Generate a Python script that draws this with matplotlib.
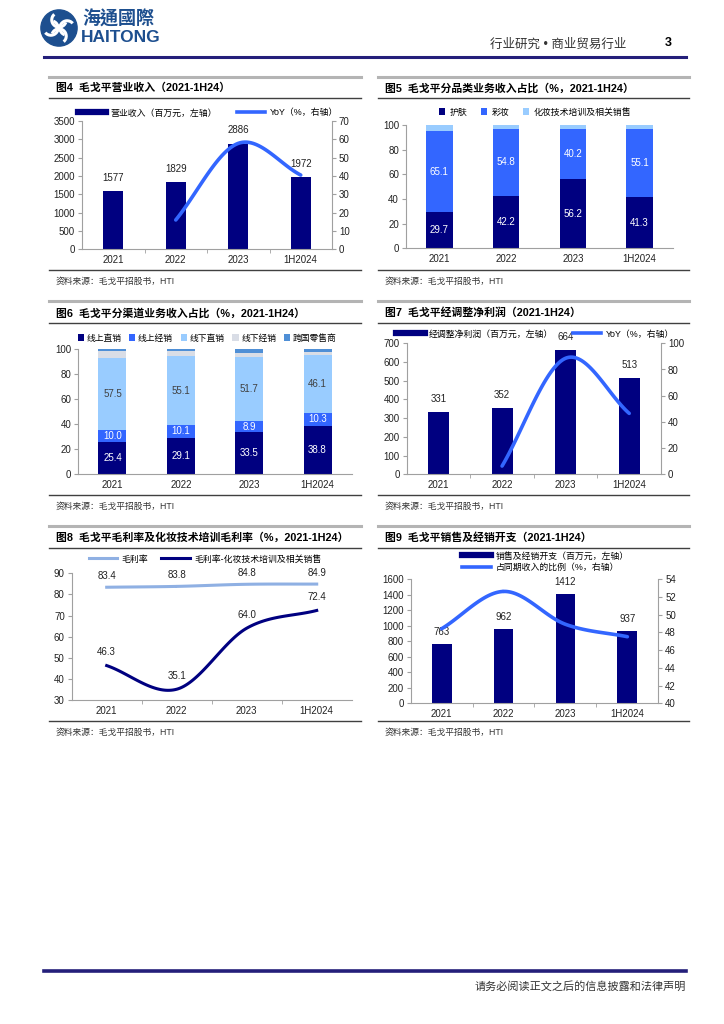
import numpy as np
import matplotlib
matplotlib.use('Agg')
import matplotlib.pyplot as plt
from matplotlib.lines import Line2D
from matplotlib.patches import Circle, Arc

plt.rcParams['font.family'] = ['Liberation Sans', 'Noto Sans CJK SC', 'DejaVu Sans']

W, H = 724, 1024
NAVY = '#000080'
BLUE = '#3366ff'
LBLUE = '#99ccff'
GREY = '#d9dde6'
MBLUE = '#4f8fd6'
TXT = '#222222'
AX = '#a0a0a0'

years = ['2021', '2022', '2023', '1H2024']

# fig 4
revenue = [1577, 1829, 2886, 1972]
revenue_yoy = [16.0, 57.8, 40.5]            # 2022 onwards
# fig 5
skincare = [29.7, 42.2, 56.2, 41.3]
makeup = [65.1, 54.8, 40.2, 55.1]
training = [5.2, 3.0, 3.6, 3.6]
# fig 6
online_direct = [25.4, 29.1, 33.5, 38.8]
online_dist = [10.0, 10.1, 8.9, 10.3]
offline_direct = [57.5, 55.1, 51.7, 46.1]
offline_dist = [5.8, 4.2, 2.6, 2.3]
retailers = [1.3, 1.5, 3.3, 2.5]
# fig 7
adj_profit = [331, 352, 664, 513]
adj_profit_yoy = [6.3, 88.6, 46.5]          # 2022 onwards
# fig 8
gross_margin = [83.4, 83.8, 84.8, 84.9]
training_margin = [46.3, 35.1, 64.0, 72.4]
# fig 9
selling_exp = [763, 962, 1412, 937]
selling_ratio = [48.4, 52.6, 48.9, 47.5]

fig = plt.figure(figsize=(W / 100, H / 100), dpi=100)


def px(x0, y0, x1, y1):
    return [x0 / W, 1 - y1 / H, (x1 - x0) / W, (y1 - y0) / H]


def hline(x0, x1, y, color, lw):
    fig.add_artist(Line2D([x0 / W, x1 / W], [1 - y / H, 1 - y / H],
                          transform=fig.transFigure, color=color, lw=lw))


def ftext(x, y, s, **kw):
    fig.text(x / W, 1 - y / H, s, **kw)


def smooth(xs, ys, n=40):
    # catmull-rom curve through the points, like the excel smoothed line
    p = np.column_stack([xs, ys]).astype(float)
    p = np.vstack([2 * p[0] - p[1], p, 2 * p[-1] - p[-2]])
    t = np.linspace(0, 1, n)[:, None]
    out = []
    for i in range(1, len(p) - 2):
        p0, p1, p2, p3 = p[i - 1], p[i], p[i + 1], p[i + 2]
        out.append(0.5 * (2 * p1 + (-p0 + p2) * t + (2 * p0 - 5 * p1 + 4 * p2 - p3) * t ** 2
                          + (-p0 + 3 * p1 - 3 * p2 + p3) * t ** 3))
    out = np.vstack(out)
    return out[:, 0], out[:, 1]


def frame(x0, x1, row, title):
    top, tt, under, bottom, src = row
    hline(x0, x1, top, '#b4b4b4', 2.2)
    ftext(x0 + 7, tt, title, fontsize=7.8, fontweight='bold', va='center', color='black')
    hline(x0, x1, under, '#404040', 1.0)
    hline(x0, x1, bottom, '#404040', 1.0)
    ftext(x0 + 7, src, '资料来源：毛戈平招股书，HTI', fontsize=6.3, va='center', color='#333333')


def style(ax, right=None):
    ax.spines['top'].set_visible(False)
    ax.spines['right'].set_visible(False)
    for s in ['left', 'bottom']:
        ax.spines[s].set_color(AX)
        ax.spines[s].set_linewidth(0.8)
    ax.set_xlim(-0.5, 3.5)
    ax.set_xticks(range(4))
    ax.set_xticklabels(years)
    ax.set_xticks([0.5, 1.5, 2.5], minor=True)
    ax.tick_params(axis='x', which='major', length=0, labelsize=7, colors=TXT, pad=4)
    ax.tick_params(axis='x', which='minor', length=3, color=AX)
    ax.tick_params(axis='y', length=3, color=AX, labelsize=7, colors=TXT, pad=2)
    ax.set_facecolor('none')
    if right is not None:
        right.spines['top'].set_visible(False)
        right.spines['left'].set_visible(False)
        right.spines['bottom'].set_visible(False)
        right.spines['right'].set_color(AX)
        right.spines['right'].set_linewidth(0.8)
        right.tick_params(axis='y', length=3, color=AX, labelsize=7, colors=TXT, pad=2)


x = np.arange(4)
LX0, LX1, RX0, RX1 = 49, 361, 378, 689
ROW1 = (77, 88, 98, 270, 281)
ROW2 = (301, 313, 323, 495, 506)
ROW3 = (526, 538, 548, 721, 732)
LEG = dict(frameon=False, fontsize=6.4, handletextpad=0.5)

# ---------- header ----------
lax = fig.add_axes(px(40, 9, 78, 47))
lax.set_xlim(-1.05, 1.05)
lax.set_ylim(-1.05, 1.05)
lax.set_aspect('equal')
lax.axis('off')
lax.add_patch(Circle((0, 0), 1, color='#1d4f8f'))
for ang in [0, 90, 180, 270]:
    lax.add_patch(Arc((0.45 * np.cos(np.radians(ang)), 0.45 * np.sin(np.radians(ang))), 0.8, 0.8,
                      theta1=ang + 40, theta2=ang + 250, color='white', lw=2.2))
lax.add_patch(Circle((0, 0), 0.15, color='white'))
ftext(82, 19, '海通國際', fontsize=13, fontweight='bold', color='#1d4f8f', va='center',
      family=['Noto Sans CJK TC', 'DejaVu Sans'])
ftext(81, 38, 'HAITONG', fontsize=12.5, fontweight='bold', color='#1d4f8f', va='center')
ftext(626, 45, '行业研究 • 商业贸易行业', fontsize=9, color='#333333', va='center', ha='right')
ftext(668, 43, '3', fontsize=9, fontweight='bold', color='black', va='center', ha='center')
hline(44, 686, 57, '#241f7a', 2.2)

# ---------- fig 4 ----------
frame(LX0, LX1, ROW1, '图4  毛戈平营业收入（2021-1H24）')
ax = fig.add_axes(px(82, 121, 332, 249.3))
ax2 = ax.twinx()
ax.bar(x, revenue, width=0.32, color=NAVY, zorder=2)
for i, v in enumerate(revenue):
    ax.text(i, v + 230, str(v), ha='center', va='bottom', fontsize=7, color=TXT)
sx, sy = smooth(x[1:], revenue_yoy)
ax2.plot(sx, sy, color=BLUE, lw=2.6, solid_capstyle='round')
ax.set_ylim(0, 3500)
ax.set_yticks(range(0, 3501, 500))
ax2.set_ylim(0, 70)
ax2.set_yticks(range(0, 71, 10))
style(ax, ax2)
fig.legend([Line2D([], [], color=NAVY, lw=4.5), Line2D([], [], color=BLUE, lw=2.6)],
           ['营业收入（百万元，左轴）', 'YoY（%，右轴）'], loc='center',
           bbox_to_anchor=(208 / W, 1 - 113 / H), ncol=2, handlelength=3.2, columnspacing=2.2, **LEG)

# ---------- fig 5 ----------
frame(RX0, RX1, ROW1, '图5  毛戈平分品类业务收入占比（%，2021-1H24）')
ax = fig.add_axes(px(406, 125, 673, 248.3))
b1 = ax.bar(x, skincare, width=0.4, color=NAVY)
b2 = ax.bar(x, makeup, width=0.4, bottom=skincare, color=BLUE)
b3 = ax.bar(x, training, width=0.4, bottom=np.add(skincare, makeup), color=LBLUE)
for i in x:
    ax.text(i, skincare[i] / 2, f'{skincare[i]:.1f}', ha='center', va='center', fontsize=7, color='white')
    ax.text(i, skincare[i] + makeup[i] / 2, f'{makeup[i]:.1f}', ha='center', va='center', fontsize=7, color='white')
ax.set_ylim(0, 100)
ax.set_yticks(range(0, 101, 20))
style(ax)
ax.tick_params(axis='x', which='minor', length=0)
fig.legend([b1, b2, b3], ['护肤', '彩妆', '化妆技术培训及相关销售'], loc='center',
           bbox_to_anchor=(535 / W, 1 - 112 / H), ncol=3,
           handlelength=0.7, handleheight=0.7, columnspacing=1.5, **LEG)

# ---------- fig 6 ----------
frame(LX0, LX1, ROW2, '图6  毛戈平分渠道业务收入占比（%，2021-1H24）')
ax = fig.add_axes(px(78.3, 349.3, 351.7, 474))
series = [online_direct, online_dist, offline_direct, offline_dist, retailers]
cols = [NAVY, BLUE, LBLUE, GREY, MBLUE]
names = ['线上直销', '线上经销', '线下直销', '线下经销', '跨国零售商']
bottom = np.zeros(4)
handles = []
for k, (vals, c) in enumerate(zip(series, cols)):
    h = ax.bar(x, vals, width=0.41, bottom=bottom, color=c)
    handles.append(h)
    if k < 3:
        for i in x:
            ax.text(i, bottom[i] + vals[i] / 2, f'{vals[i]:.1f}', ha='center', va='center', fontsize=7,
                    color='white' if k < 2 else '#404040')
    bottom = bottom + np.array(vals)
ax.set_ylim(0, 100)
ax.set_yticks(range(0, 101, 20))
style(ax)
ax.tick_params(axis='x', which='minor', length=0)
fig.legend(handles, names, loc='center', bbox_to_anchor=(207 / W, 1 - 338 / H), ncol=5,
           handlelength=0.7, handleheight=0.7, columnspacing=0.9,
           frameon=False, fontsize=6.3, handletextpad=0.3)

# ---------- fig 7 ----------
frame(RX0, RX1, ROW2, '图7  毛戈平经调整净利润（2021-1H24）')
ax = fig.add_axes(px(406.7, 343.3, 661, 474.3))
ax2 = ax.twinx()
ax.bar(x, adj_profit, width=0.33, color=NAVY, zorder=2)
for i, v in enumerate(adj_profit):
    ax.text(i, v + 45, str(v), ha='center', va='bottom', fontsize=7, color=TXT)
sx, sy = smooth(x[1:], adj_profit_yoy)
ax2.plot(sx, sy, color=BLUE, lw=2.6, solid_capstyle='round')
ax.set_ylim(0, 700)
ax.set_yticks(range(0, 701, 100))
ax2.set_ylim(0, 100)
ax2.set_yticks(range(0, 101, 20))
style(ax, ax2)
fig.legend([Line2D([], [], color=NAVY, lw=4.5), Line2D([], [], color=BLUE, lw=2.6)],
           ['经调整净利润（百万元，左轴）', 'YoY（%，右轴）'], loc='center',
           bbox_to_anchor=(535 / W, 1 - 334 / H), ncol=2, handlelength=3.2, columnspacing=2.2, **LEG)

# ---------- fig 8 ----------
frame(LX0, LX1, ROW3, '图8  毛戈平毛利率及化妆技术培训毛利率（%，2021-1H24）')
ax = fig.add_axes(px(71.7, 573.3, 351.7, 700))
sx, sy = smooth(x, gross_margin)
ax.plot(sx, sy, color='#8fb0e3', lw=2.2)
sx, sy = smooth(x, training_margin)
ax.plot(sx, sy, color=NAVY, lw=2.2)
for i in x:
    ax.text(i, gross_margin[i] + 5.2, f'{gross_margin[i]:.1f}', ha='center', va='center', fontsize=7, color=TXT)
    ax.text(i, training_margin[i] + 6.2, f'{training_margin[i]:.1f}', ha='center', va='center', fontsize=7, color=TXT)
ax.set_ylim(30, 90)
ax.set_yticks(range(30, 91, 10))
style(ax)
fig.legend([Line2D([], [], color='#8fb0e3', lw=2.2), Line2D([], [], color=NAVY, lw=2.2)],
           ['毛利率', '毛利率-化妆技术培训及相关销售'], loc='center',
           bbox_to_anchor=(205 / W, 1 - 559 / H), ncol=2, handlelength=3.2, columnspacing=1.5, **LEG)

# ---------- fig 9 ----------
frame(RX0, RX1, ROW3, '图9  毛戈平销售及经销开支（2021-1H24）')
ax = fig.add_axes(px(410.7, 579, 658.3, 703.3))
ax2 = ax.twinx()
ax.bar(x, selling_exp, width=0.32, color=NAVY, zorder=2)
for i, v in enumerate(selling_exp):
    ax.text(i, v + 90, str(v), ha='center', va='bottom', fontsize=7, color=TXT)
sx, sy = smooth(x, selling_ratio)
ax2.plot(sx, sy, color=BLUE, lw=2.6, solid_capstyle='round')
ax.set_ylim(0, 1600)
ax.set_yticks(range(0, 1601, 200))
ax2.set_ylim(40, 54)
ax2.set_yticks(range(40, 55, 2))
style(ax, ax2)
fig.legend([Line2D([], [], color=NAVY, lw=4.5), Line2D([], [], color=BLUE, lw=2.6)],
           ['销售及经销开支（百万元，左轴）', '占同期收入的比例（%，右轴）'], loc='upper left',
           bbox_to_anchor=(458 / W, 1 - 547 / H), ncol=1, handlelength=3.2,
           labelspacing=0.3, borderpad=0, **LEG)

# ---------- footer ----------
hline(44, 686, 971, '#241f7a', 2.6)
ftext(686, 986, '请务必阅读正文之后的信息披露和法律声明', fontsize=8, color='#333333', va='center', ha='right')

fig.savefig('out.png', dpi=100)
